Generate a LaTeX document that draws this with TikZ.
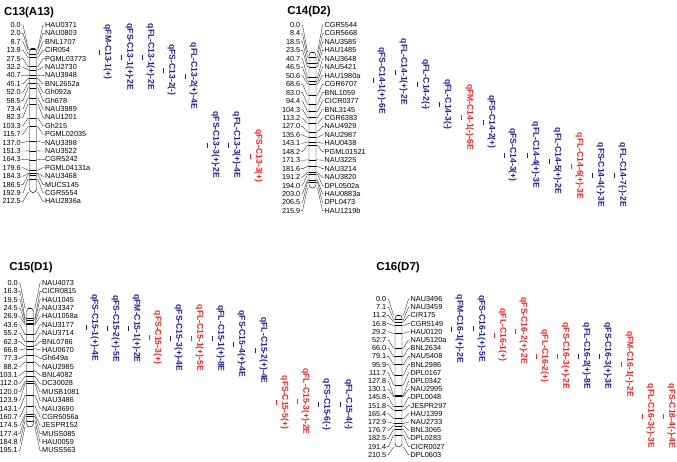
\documentclass[tikz,border=0pt]{standalone}
\usepackage{fontspec}
\setmainfont{Liberation Sans}
\usetikzlibrary{calc}
\definecolor{qblue}{RGB}{30,30,150}
\definecolor{qred}{RGB}{250,30,30}
\tikzset{
  numlab/.style={font=\fontsize{7.3}{8}\selectfont, inner sep=0pt, anchor=east},
  mklab/.style={font=\fontsize{7.3}{8}\selectfont, inner sep=0pt, anchor=west},
  ttl/.style={font=\fontsize{11.5}{13}\selectfont\bfseries, inner sep=0pt},
  leader/.style={line width=0.35pt, black!85},
  chromline/.style={line width=0.45pt},
  qtltext/.style={font=\fontsize{8.6}{10}\selectfont\bfseries, inner sep=0pt, rotate=-90, anchor=south},
  qtlbar/.style={line width=1pt},
}
% #1 prefix, #2 cx, #3 first label y, #4 label step, #5 chrom top, #6 scale, #7 length cM, #8 list
\newcommand\mychrom[8]{%
  \foreach \cm/\nm [count=\i from 0] in {#8} {
    \pgfmathsetmacro\yl{#3+\i*#4}
    \pgfmathsetmacro\ym{#5+\cm*#6}
    \node[numlab] (#1n\i) at (#2-12,\yl) {\cm};
    \node[mklab] (#1m\i) at (#2+12,\yl) {\nm};
    \coordinate (#1l\i) at (#2-3.5,\ym);
    \coordinate (#1r\i) at (#2+3.5,\ym);
    \draw[leader] ([xshift=0.4pt]#1n\i.east) -- ([xshift=2pt]#1n\i.east) -- ([xshift=-1.5pt]#1l\i) -- (#1l\i);
    \draw[leader] (#1r\i) -- ([xshift=1.5pt]#1r\i) -- ([xshift=-2pt]#1m\i.west) -- ([xshift=-0.4pt]#1m\i.west);
  }
  \begin{scope}
    \clip[rounded corners=3.5] (#2-3.5,#5) rectangle ({#2+3.5},{#5+#7*#6});
    \foreach \cm/\nm in {#8} {
      \pgfmathsetmacro\ym{#5+\cm*#6}
      \draw[chromline] (#2-4,\ym) -- (#2+4,\ym);
    }
  \end{scope}
  \draw[chromline, rounded corners=3.5] (#2-3.5,#5) rectangle ({#2+3.5},{#5+#7*#6});
}
% #1 name, #2 colour, #3 bar x, #4 y1, #5 y2, #6 text
\newcommand\myqtl[6]{%
  \draw[qtlbar, #2] (#3,#4) -- (#3,#5);
  \node[qtltext, text=#2] (#1) at ({#3+4.5},{(#4+#5)/2}) {#6};
}
\begin{document}
\begin{tikzpicture}[x=1pt,y=-1pt]
\useasboundingbox (0,0) rectangle (677,461);

% ---------------- C13
\node[ttl] (t13) at (29,13) {C13(A13)};
\mychrom{a}{33}{25}{8.4}{48}{0.68}{212.5}{0.0/HAU0371, 2.0/NAU0803, 8.7/BNL1707, 13.9/CIR054, 27.5/PGML03773, 32.2/NAU2730, 40.7/NAU3948, 45.1/BNL2652a, 52.0/Gh092a, 58.5/Gh678, 73.4/NAU3989, 82.3/NAU1201, 103.3/Gh215, 115.7/PGML02035, 137.0/NAU3398, 151.3/NAU3522, 164.3/CGR5242, 179.6/PGML04131a, 184.3/NAU3468, 186.5/MUCS145, 192.9/CGR5554, 212.5/HAU2836a}
\myqtl{q131}{qblue}{99}{49.5}{54.5}{qFM-C13-1(+)}
\myqtl{q132}{qblue}{121}{54.5}{59.5}{qFS-C13-1(+)-2E}
\myqtl{q133}{qblue}{142}{54.5}{59.5}{qFL-C13-1(+)-2E}
\myqtl{q134}{qblue}{163}{67.5}{72.5}{qFS-C13-2(-)}
\myqtl{q135}{qblue}{185}{73.5}{78.5}{qFL-C13-2(+)-4E}
\myqtl{q136}{qblue}{207}{142.5}{147.5}{qFS-C13-3(+)-2E}
\myqtl{q137}{qblue}{228}{142.5}{147.5}{qFL-C13-3(+)-4E}
\myqtl{q138}{qred}{250}{153.5}{158.5}{qFS-C13-3(+)}

% ---------------- C14
\node[ttl] (t14) at (309,12) {C14(D2)};
\mychrom{b}{312.5}{25}{8.45}{52}{0.63}{215.9}{0.0/CGR5544, 8.4/CGR5668, 18.5/NAU3585, 23.5/HAU1485, 40.7/NAU3648, 46.5/NAU5421, 50.6/HAU1980a, 68.6/CGR6707, 83.0/BNL1059, 94.4/CICR0377, 104.3/BNL3145, 113.2/CGR6383, 127.0/NAU4929, 135.6/NAU2987, 143.1/HAU0438, 148.2/PGML01521, 171.3/NAU3225, 181.6/NAU3214, 191.2/NAU3820, 194.0/DPL0502a, 203.0/HAU0883a, 206.5/DPL0473, 215.9/HAU1219b}
\myqtl{q141}{qblue}{373}{78}{83}{qFS-C14-1(+)-6E}
\myqtl{q142}{qblue}{395}{69.5}{74.5}{qFL-C14-1(+)-2E}
\myqtl{q143}{qblue}{417}{82}{87}{qFL-C14-2(-)}
\myqtl{q144}{qblue}{439}{102}{107}{qFL-C14-3(-)}
\myqtl{q145}{qred}{461}{114.5}{119.5}{qFM-C14-1(-)-6E}
\myqtl{q146}{qblue}{483}{119.5}{124.5}{qFS-C14-2(+)}
\myqtl{q147}{qblue}{504}{152.5}{157.5}{qFS-C14-3(+)}
\myqtl{q148}{qblue}{527}{152.5}{157.5}{qFL-C14-4(+)-3E}
\myqtl{q149}{qblue}{549}{158.5}{163.5}{qFL-C14-5(+)-2E}
\myqtl{q1410}{qred}{571}{163.5}{168.5}{qFL-C14-6(+)-3E}
\myqtl{q1411}{qblue}{592}{172.5}{177.5}{qFS-C14-4(-)-3E}
\myqtl{q1412}{qblue}{614}{172.5}{177.5}{qFL-C14-7(-)-2E}

% ---------------- C15
\node[ttl] (t15) at (31,268) {C15(D1)};
\mychrom{c}{30}{283}{8.37}{308}{0.61}{195.1}{0.0/NAU4073, 16.3/CICR0815, 19.5/HAU1045, 24.5/NAU3347, 26.9/HAU1058a, 43.6/NAU3177, 55.2/NAU3714, 62.3/BNL0786, 66.8/HAU0670, 77.3/Gh649a, 88.2/NAU2985, 103.1/BNL4082, 112.0/DC30028, 120.0/MUSB1081, 123.9/NAU3486, 143.1/NAU3690, 160.7/CGR5056a, 174.5/JESPR152, 177.4/MUSS085, 184.8/HAU0059, 195.1/MUSS563}
\myqtl{q151}{qblue}{86}{325}{330}{qFS-C15-1(+)-4E}
\myqtl{q152}{qblue}{107}{326}{331}{qFS-C15-2(+)-5E}
\myqtl{q153}{qblue}{128}{326}{331}{qFM-C15-1(+)-2E}
\myqtl{q154}{qred}{149}{335}{340}{qFS-C15-3(+)}
\myqtl{q155}{qblue}{170}{335.5}{340.5}{qFS-C15-3(+)-4E}
\myqtl{q156}{qred}{191}{335.5}{340.5}{qFL-C15-1(+)-5E}
\myqtl{q157}{qblue}{212}{336}{341}{qFL-C15-1(+)-8E}
\myqtl{q158}{qblue}{233}{341.5}{346.5}{qFS-C15-4(+)-4E}
\myqtl{q159}{qblue}{255}{348}{353}{qFL-C15-2(+)-4E}
\myqtl{q1510}{qred}{276}{400}{405}{qFS-C15-5(+)}
\myqtl{q1511}{qred}{297}{399}{404}{qFL-C15-3(+)-2E}
\myqtl{q1512}{qblue}{318}{402}{407}{qFS-C15-6(-)}
\myqtl{q1513}{qblue}{340}{402}{407}{qFL-C15-4(-)}

% ---------------- C16
\node[ttl] (t16) at (398,268) {C16(D7)};
\mychrom{d}{398.5}{299}{8.2}{315}{0.627}{210.5}{0.0/NAU3496, 7.1/NAU3459, 11.2/CIR175, 16.8/CGR5149, 29.2/HAU0120, 52.7/NAU5120a, 66.0/BNL2634, 79.1/NAU5408, 95.9/BNL2986, 111.7/DPL0167, 127.8/DPL0342, 130.1/NAU2995, 145.8/DPL0048, 151.8/JESPR297, 165.4/HAU1399, 172.9/NAU2733, 176.7/BNL3065, 182.5/DPL0283, 191.4/CICR0027, 210.5/DPL0603}
\myqtl{q161}{qblue}{451}{326.5}{331.5}{qFM-C16-1(+)-2E}
\myqtl{q162}{qblue}{473}{326}{331}{qFS-C16-1(+)-5E}
\myqtl{q163}{qred}{494}{332.5}{337.5}{qFL-C16-1(+)}
\myqtl{q164}{qred}{515}{328.5}{333.5}{qFS-C16-2(+)-2E}
\myqtl{q165}{qred}{536}{353.5}{358.5}{qFL-C16-2(+)}
\myqtl{q166}{qred}{557}{353.5}{358.5}{qFS-C16-3(+)-2E}
\myqtl{q167}{qblue}{578}{353.5}{358.5}{qFL-C16-2(+)-8E}
\myqtl{q168}{qblue}{599}{353.5}{358.5}{qFS-C16-3(+)-3E}
\myqtl{q169}{qred}{621}{361.5}{366.5}{qFM-C16-1(-)-2E}
\myqtl{q1610}{qred}{642}{413.5}{418.5}{qFL-C16-3(-)-3E}
\myqtl{q1611}{qred}{663}{413.5}{418.5}{qFS-C16-4(-)-4E}
\end{tikzpicture}
\end{document}
